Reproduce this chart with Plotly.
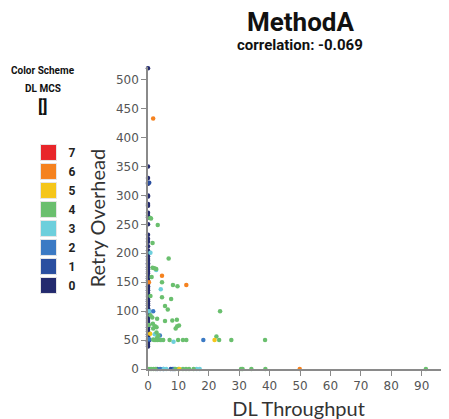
import plotly.graph_objects as go

# ---- data (DL Throughput, Retry Overhead) per DL MCS ----
mcs_labels = ["0", "1", "2", "3", "4", "5", "6", "7"]
mcs_colors = ["#232a6e", "#2a4fa0", "#3b7ac4", "#6dcfdc", "#6abf6e", "#f5c61a", "#f5821f", "#e8262a"]

mcs0_y = [520, 350, 330, 322, 320, 300, 298, 285, 282, 270, 265, 262, 250, 232, 225, 220, 212,
          205, 200, 195, 190, 187, 183, 180, 176, 172, 168, 165, 160, 157, 153, 150, 147, 143,
          140, 136, 132, 128, 125, 120, 117, 113, 110, 105, 102, 98, 95, 90, 87, 83, 80, 76, 72,
          68, 65, 60, 56, 52, 48, 45, 42, 39]
mcs0_x = [0.0] * len(mcs0_y)

mcs1_x = [0.4, 0.3, 0.5, 3.0, 7.5, 8.2]
mcs1_y = [322, 100, 50, 0, 0, 0]

mcs2_x = [1.7, 3.9, 18.2, 0.3, 4.0, 5.0, 8.6]
mcs2_y = [100, 58, 50, 52, 0, 0, 0]

mcs3_x = [0.8, 2.7, 4.2, 0.3, 2.2, 8.4, 4.5, 5.2, 6.0, 16.0, 17.0]
mcs3_y = [201, 171, 138, 100, 60, 47, 50, 0, 0, 0, 0]

mcs4_x = [0.7, 1.0, 3.2, 1.5, 6.8, 1.5, 2.1, 2.7, 1.2, 4.6, 8.2, 9.7, 0.8, 4.6, 7.6, 5.6, 6.5,
          23.7, 0.8, 1.4, 3.0, 9.5, 8.0, 5.6, 1.6, 0.3, 2.3, 10.2, 9.6, 2.8, 9.1, 1.7, 2.8, 3.4,
          3.0, 1.7, 2.0, 2.6, 3.2, 4.0, 5.0, 7.1, 9.9, 11.5, 12.6, 22.5, 23.4, 27.4, 38.5, 98.3,
          0.3, 1.0, 1.8, 2.5, 9.0, 10.0, 11.5, 12.5, 13.5, 15.0, 30.6, 31.1, 34.0, 38.6, 91.4]
mcs4_y = [261, 260, 249, 218, 191, 175, 174, 173, 159, 150, 145, 143, 126, 124, 121, 109, 103,
          100, 93, 89, 87, 85, 84, 83, 78, 76, 74, 75, 74, 72, 70, 70, 63, 58,
          54, 51, 50, 50, 50, 50, 50, 50, 50, 50, 50, 56, 50, 50, 50, 100,
          0, 0, 0, 0, 0, 0, 0, 0, 0, 0, 0, 0, 0, 0, 0]

mcs5_x = [21.9, 0.7, 10.3]
mcs5_y = [50, 61, 0]

mcs6_x = [1.7, 4.6, 0.3, 12.6, 49.9]
mcs6_y = [433, 161, 150, 145, 0]

mcs7_x = []
mcs7_y = []

series_x = [mcs0_x, mcs1_x, mcs2_x, mcs3_x, mcs4_x, mcs5_x, mcs6_x, mcs7_x]
series_y = [mcs0_y, mcs1_y, mcs2_y, mcs3_y, mcs4_y, mcs5_y, mcs6_y, mcs7_y]

title_text = "MethodA"
subtitle_text = "correlation: -0.069"
x_title = "DL Throughput"
y_title = "Retry Overhead"
x_ticks = [0, 10, 20, 30, 40, 50, 60, 70, 80, 90]
y_ticks = [0, 50, 100, 150, 200, 250, 300, 350, 400, 450, 500]

cond_font = "Roboto, Liberation Sans, sans-serif"

fig = go.Figure()

# data marks
for xs, ys, c in zip(series_x, series_y, mcs_colors):
    fig.add_trace(go.Scatter(x=xs, y=ys, mode="markers", showlegend=False, cliponaxis=False,
                             marker=dict(color=c, size=4.5, line=dict(width=0)), hoverinfo="x+y"))

# legend entries (7 at top)
for lab, c in zip(mcs_labels, mcs_colors):
    fig.add_trace(go.Scatter(x=[None], y=[None], mode="markers", name=lab,
                             marker=dict(color=c, size=16, symbol="square",
                                         line=dict(color="#e6e6e6", width=1))))

def ann(text, x, y, size):
    return dict(text=text, xref="paper", yref="paper", x=x, y=y, showarrow=False,
                xanchor="center", yanchor="middle", borderpad=0,
                font=dict(family=cond_font, size=size, color="#111", weight="bold"))

fig.update_layout(
    width=449, height=419,
    margin=dict(l=140, r=8, t=59, b=58, autoexpand=False),
    paper_bgcolor="white", plot_bgcolor="white",
    showlegend=True,
    legend=dict(traceorder="reversed", x=-0.397, xanchor="left", y=0.765, yanchor="top",
                font=dict(family=cond_font, size=12, color="#222", weight="bold"),
                itemclick=False, bgcolor="rgba(0,0,0,0)", tracegroupgap=0),
    xaxis=dict(range=[0, 99], tickvals=x_ticks, showgrid=False, zeroline=False,
               showline=True, linecolor="#8a8a8a", linewidth=1.5,
               ticks="outside", ticklen=5, tickcolor="#8a8a8a",
               tickfont=dict(family="DejaVu Sans, Verdana, sans-serif", size=12, color="#555"),
               title=dict(text=x_title, standoff=10,
                          font=dict(family="Lato, Noto Sans, sans-serif", size=20, color="#333"))),
    yaxis=dict(range=[0, 522], tickvals=y_ticks, showgrid=False, zeroline=False,
               showline=True, linecolor="#8a8a8a", linewidth=1.5,
               ticks="outside", ticklen=5, tickcolor="#8a8a8a",
               tickfont=dict(family="DejaVu Sans, Verdana, sans-serif", size=12, color="#555"),
               title=dict(text=y_title, standoff=5,
                          font=dict(family="Lato, Noto Sans, sans-serif", size=20, color="#333"))),
    annotations=[
        ann(title_text, 0.505, 1.148, 26),
        ann(subtitle_text, 0.505, 1.073, 15),
        ann("Color Scheme", -0.349, 0.987, 10),
        ann("DL MCS", -0.349, 0.93, 10),
        ann("[]", -0.349, 0.872, 17),
    ],
)

fig.write_html("out.html")
